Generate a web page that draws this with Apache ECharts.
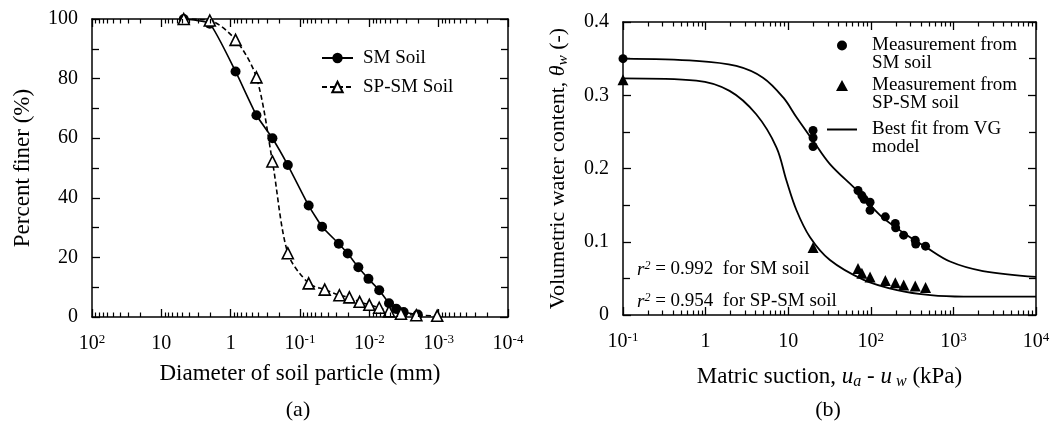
<!DOCTYPE html>
<html><head><meta charset="utf-8">
<script src="https://cdn.jsdelivr.net/npm/echarts@6/dist/echarts.min.js"></script>
<style>html,body{margin:0;padding:0;background:#fff}#c{width:1053px;height:428px}</style>
</head><body><div id="c"></div>
<script>
const FONT = '"Liberation Serif", "Times New Roman", serif';
const TICKCOLOR = '#000';

// ---------- (a) Grain size distribution ----------
const smDiameter   = [4.75, 2.0, 0.85, 0.425, 0.25, 0.15, 0.075, 0.048, 0.0276, 0.0205, 0.0144, 0.0103, 0.0072, 0.0052, 0.0041, 0.0032, 0.002];
const smFiner      = [100, 98.4, 82.4, 67.7, 60.0, 51.0, 37.4, 30.3, 24.6, 21.3, 16.7, 12.8, 9.0, 4.6, 2.8, 1.7, 0.8];
const spsmDiameter = [4.75, 2.0, 0.85, 0.425, 0.25, 0.15, 0.075, 0.044, 0.027, 0.0194, 0.0138, 0.0100, 0.0072, 0.0052, 0.0035, 0.0021, 0.00105];
const spsmFiner    = [100, 99.5, 93.0, 80.4, 52.2, 21.4, 11.3, 9.2, 7.3, 6.6, 5.1, 4.1, 3.1, 1.9, 1.1, 0.6, 0.4];
const xTickLabelsA = ['10^2', '10', '1', '10^-1', '10^-2', '10^-3', '10^-4'];
const yTickLabelsA = ['0', '20', '40', '60', '80', '100'];

// ---------- (b) Soil-water characteristic curves ----------
const smSuction     = [0.1, 20, 20, 20, 70, 78, 83, 98, 98, 150, 198, 200, 250, 345, 350, 460];
const smTheta       = [0.350, 0.252, 0.242, 0.230, 0.170, 0.163, 0.158, 0.154, 0.143, 0.134, 0.125, 0.119, 0.109, 0.102, 0.097, 0.094];
const spsmSuction   = [0.1, 20, 70, 78, 98, 150, 198, 250, 345, 460];
const spsmTheta     = [0.321, 0.092, 0.0635, 0.057, 0.052, 0.047, 0.044, 0.041, 0.0395, 0.0377];
const smFitSuction  = [0.1, 0.77, 2.35, 4.95, 8.7, 12.6, 20, 32, 68, 130, 250, 460, 910, 2280, 10000];
const smFitTheta    = [0.350, 0.347, 0.340, 0.324, 0.297, 0.270, 0.238, 0.206, 0.170, 0.136, 0.112, 0.093, 0.073, 0.060, 0.052];
const spsmFitSuction= [0.1, 0.77, 1.95, 4.1, 7.2, 9.5, 12.6, 18.3, 32, 82, 208, 528, 1340, 10000];
const spsmFitTheta  = [0.323, 0.320, 0.306, 0.274, 0.229, 0.184, 0.143, 0.1065, 0.075, 0.048, 0.034, 0.027, 0.025, 0.025];
const xTickLabelsB = ['10^-1', '1', '10', '10^2', '10^3', '10^4'];
const yTickLabelsB = ['0', '0.1', '0.2', '0.3', '0.4'];

const zip = (a, b) => a.map((v, i) => [v, b[i]]);
function labelValue(s) { if (s.indexOf('^') < 0) return Number(s); const p = s.split('^'); return Math.pow(Number(p[0]), Number(p[1])); }
function expRich(s) { if (s.indexOf('^') < 0) return '{b|' + s + '}'; const p = s.split('^'); return '{b|' + p[0] + '}{s|' + p[1] + '}'; }
function logFormatter(labels) {
  return function (v) {
    const e = Math.log10(v);
    for (const l of labels) { if (Math.abs(Math.log10(labelValue(l)) - e) < 1e-6) return expRich(l); }
    return '';
  };
}
function linFormatter(labels) {
  return function (v) {
    for (const l of labels) { if (Math.abs(Number(l) - v) < 1e-9) return l; }
    return '';
  };
}
function logMinor(e0, e1) { const a = []; for (let e = e0; e < e1; e++) for (let k = 2; k <= 9; k++) a.push([k * Math.pow(10, e), 0]); return a; }

const richTick = {
  b: { fontFamily: FONT, fontSize: 20, color: '#000', lineHeight: 22 },
  s: { fontFamily: FONT, fontSize: 13, color: '#000', verticalAlign: 'top', lineHeight: 13 }
};
const lineStyleAxis = { color: '#000', width: 1.5 };

function logAxis(grid, min, max, inverse, pos, labels, extra) {
  return Object.assign({
    type: 'log', gridIndex: grid, min: min, max: max, inverse: inverse, position: pos, logBase: 10,
    splitNumber: Math.round(Math.abs(Math.log10(max / min))),
    axisLine: { show: true, lineStyle: lineStyleAxis, onZero: false },
    axisTick: { show: true, inside: true, length: 8, lineStyle: { color: TICKCOLOR, width: 1.3 } },
    axisLabel: labels ? { show: true, margin: 16, formatter: logFormatter(labels), rich: richTick } : { show: false },
    splitLine: { show: false }, minorTick: { show: false }
  }, extra || {});
}
function linAxis(grid, min, max, interval, pos, labels, extra) {
  return Object.assign({
    type: 'value', gridIndex: grid, min: min, max: max, interval: interval, position: pos,
    axisLine: { show: true, lineStyle: lineStyleAxis, onZero: false },
    axisTick: { show: true, inside: true, length: 8, lineStyle: { color: TICKCOLOR, width: 1.3 } },
    minorTick: { show: true, splitNumber: 2, length: 7, lineStyle: { color: TICKCOLOR, width: 1.3 } },
    axisLabel: labels ? { show: true, margin: 14, formatter: linFormatter(labels), color: '#000', fontFamily: FONT, fontSize: 20 } : { show: false },
    splitLine: { show: false }
  }, extra || {});
}
function minorTickSeries(xIdx, yIdx, data) {
  return {
    type: 'custom', xAxisIndex: xIdx, yAxisIndex: yIdx, data: data, silent: true, clip: false, z: 10,
    renderItem: function (params, api) {
      const cs = params.coordSys;
      const x = Math.round(api.coord([api.value(0), api.value(1)])[0]) + 0.5;
      const top = cs.y, bot = cs.y + cs.height, len = 4.5;
      return { type: 'group', children: [
        { type: 'line', shape: { x1: x, y1: bot, x2: x, y2: bot - len }, style: { stroke: TICKCOLOR, lineWidth: 1.2 } },
        { type: 'line', shape: { x1: x, y1: top, x2: x, y2: top + len }, style: { stroke: TICKCOLOR, lineWidth: 1.2 } }
      ] };
    }
  };
}

const nameStyle = { fontFamily: FONT, fontSize: 23, color: '#000' };
const SMFIT = 'Best fit from VG\nmodel';
const legendText = { fontFamily: FONT, fontSize: 19, color: '#000', lineHeight: 18 };
const padFirst = name => '\u00a0\n' + name;

const option = {
  animation: false,
  backgroundColor: '#fff',
  grid: [
    { left: 92, top: 19, width: 416, height: 298, containLabel: false },
    { left: 623, top: 22, width: 413, height: 293, containLabel: false }
  ],
  xAxis: [
    logAxis(0, 1e-4, 100, true, 'bottom', xTickLabelsA, {
      name: 'Diameter of soil particle (mm)', nameLocation: 'middle', nameGap: 45, nameTextStyle: nameStyle }),
    logAxis(0, 1e-4, 100, true, 'top', null),
    logAxis(1, 0.1, 10000, false, 'bottom', xTickLabelsB, {
      name: '{n|Matric suction, }{i|u}{sa|a}{n| - }{i|u}{sw| w}{n| (kPa)}', nameLocation: 'middle', nameGap: 49,
      nameTextStyle: { rich: {
        n: { fontFamily: FONT, fontSize: 23, color: '#000', lineHeight: 26 },
        i: { fontFamily: FONT, fontSize: 23, fontStyle: 'italic', color: '#000', lineHeight: 26 },
        sa: { fontFamily: FONT, fontSize: 16, fontStyle: 'italic', color: '#000', verticalAlign: 'bottom', lineHeight: 15 },
        sw: { fontFamily: FONT, fontSize: 16, fontStyle: 'italic', color: '#000', verticalAlign: 'bottom', lineHeight: 10 }
      } } }),
    logAxis(1, 0.1, 10000, false, 'top', null)
  ],
  yAxis: [
    linAxis(0, 0, 100, 20, 'left', yTickLabelsA, {
      name: 'Percent finer (%)', nameLocation: 'middle', nameGap: 58, nameTextStyle: nameStyle }),
    linAxis(0, 0, 100, 20, 'right', null),
    linAxis(1, 0, 0.4, 0.1, 'left', yTickLabelsB, {
      name: '{n|Volumetric water content, }{i|θ}{s|w}{n| (-)}', nameLocation: 'middle', nameGap: 52,
      nameTextStyle: { rich: {
        n: { fontFamily: FONT, fontSize: 22, color: '#000', lineHeight: 26 },
        i: { fontFamily: FONT, fontSize: 22, fontStyle: 'italic', color: '#000', lineHeight: 26 },
        s: { fontFamily: FONT, fontSize: 15, fontStyle: 'italic', color: '#000', verticalAlign: 'bottom', lineHeight: 12 }
      } } }),
    linAxis(1, 0, 0.4, 0.1, 'right', null)
  ],
  legend: [
    { data: ['SM Soil', 'SP-SM Soil'], orient: 'vertical', left: 321, top: 48, padding: 0, itemGap: 9,
      itemWidth: 31, itemHeight: 13, textStyle: { fontFamily: FONT, fontSize: 19, color: '#000', lineHeight: 20, padding: [0, 0, 0, 5] } },
    { data: ['Measurement from\nSM soil'], left: 837, top: 45 - 27, padding: 0, itemWidth: 10, itemHeight: 10,
      formatter: padFirst, textStyle: Object.assign({ padding: [0, 0, 0, 20] }, legendText) },
    { data: ['Measurement from\nSP-SM soil'], left: 836, top: 85 - 27, padding: 0, itemWidth: 12, itemHeight: 11,
      formatter: padFirst, textStyle: Object.assign({ padding: [0, 0, 0, 19] }, legendText) },
    { data: [SMFIT], left: 827, top: 129 - 27, padding: 0, itemWidth: 30, itemHeight: 2, icon: 'rect',
      itemStyle: { color: '#000' }, formatter: padFirst, textStyle: Object.assign({ padding: [0, 0, 0, 10] }, legendText) }
  ],
  series: [
    minorTickSeries(0, 0, logMinor(-4, 2)),
    minorTickSeries(2, 2, logMinor(-1, 4)),
    { name: 'SM Soil', type: 'line', xAxisIndex: 0, yAxisIndex: 0, data: zip(smDiameter, smFiner), smooth: 0.15,
      symbol: 'circle', symbolSize: 10, itemStyle: { color: '#000', opacity: 1 }, lineStyle: { color: '#000', width: 1.6 }, z: 3 },
    { name: 'SP-SM Soil', type: 'line', xAxisIndex: 0, yAxisIndex: 0, data: zip(spsmDiameter, spsmFiner), smooth: 0.3,
      symbol: 'triangle', symbolSize: 11, itemStyle: { color: '#fff', borderColor: '#000', borderWidth: 1.6, opacity: 1 },
      lineStyle: { color: '#000', width: 1.6, type: [5, 3] }, z: 4 },
    { name: 'Measurement from\nSM soil', type: 'scatter', xAxisIndex: 2, yAxisIndex: 2, data: zip(smSuction, smTheta),
      symbol: 'circle', symbolSize: 9, itemStyle: { color: '#000', opacity: 1 }, z: 4 },
    { name: 'Measurement from\nSP-SM soil', type: 'scatter', xAxisIndex: 2, yAxisIndex: 2, data: zip(spsmSuction, spsmTheta),
      symbol: 'triangle', symbolSize: 11, itemStyle: { color: '#000', opacity: 1 }, z: 4 },
    { name: SMFIT, type: 'line', xAxisIndex: 2, yAxisIndex: 2, data: zip(smFitSuction, smFitTheta), smooth: 0.35,
      symbol: 'none', lineStyle: { color: '#000', width: 1.8 }, itemStyle: { color: '#000' }, z: 3 },
    { name: SMFIT, type: 'line', xAxisIndex: 2, yAxisIndex: 2, data: zip(spsmFitSuction, spsmFitTheta), smooth: 0.35,
      symbol: 'none', lineStyle: { color: '#000', width: 1.8 }, itemStyle: { color: '#000' }, z: 3 }
  ],
  graphic: [
    { type: 'text', left: 637, top: 260, style: {
      text: '{i|r}{s|2}{n| = 0.992  for SM soil}',
      rich: { i: { fontFamily: FONT, fontSize: 19, fontStyle: 'italic', fill: '#000' },
              s: { fontFamily: FONT, fontSize: 12, fontStyle: 'italic', fill: '#000', verticalAlign: 'top' },
              n: { fontFamily: FONT, fontSize: 19, fill: '#000' } } } },
    { type: 'text', left: 637, top: 292, style: {
      text: '{i|r}{s|2}{n| = 0.954  for SP-SM soil}',
      rich: { i: { fontFamily: FONT, fontSize: 19, fontStyle: 'italic', fill: '#000' },
              s: { fontFamily: FONT, fontSize: 12, fontStyle: 'italic', fill: '#000', verticalAlign: 'top' },
              n: { fontFamily: FONT, fontSize: 19, fill: '#000' } } } },
    { type: 'text', x: 298, y: 410, style: { text: '(a)', fontFamily: FONT, fontSize: 22, fill: '#000', align: 'center', verticalAlign: 'middle' } },
    { type: 'text', x: 828, y: 410, style: { text: '(b)', fontFamily: FONT, fontSize: 22, fill: '#000', align: 'center', verticalAlign: 'middle' } }
  ]
};
const chart = echarts.init(document.getElementById('c'));
chart.setOption(option);
</script>
</body></html>
